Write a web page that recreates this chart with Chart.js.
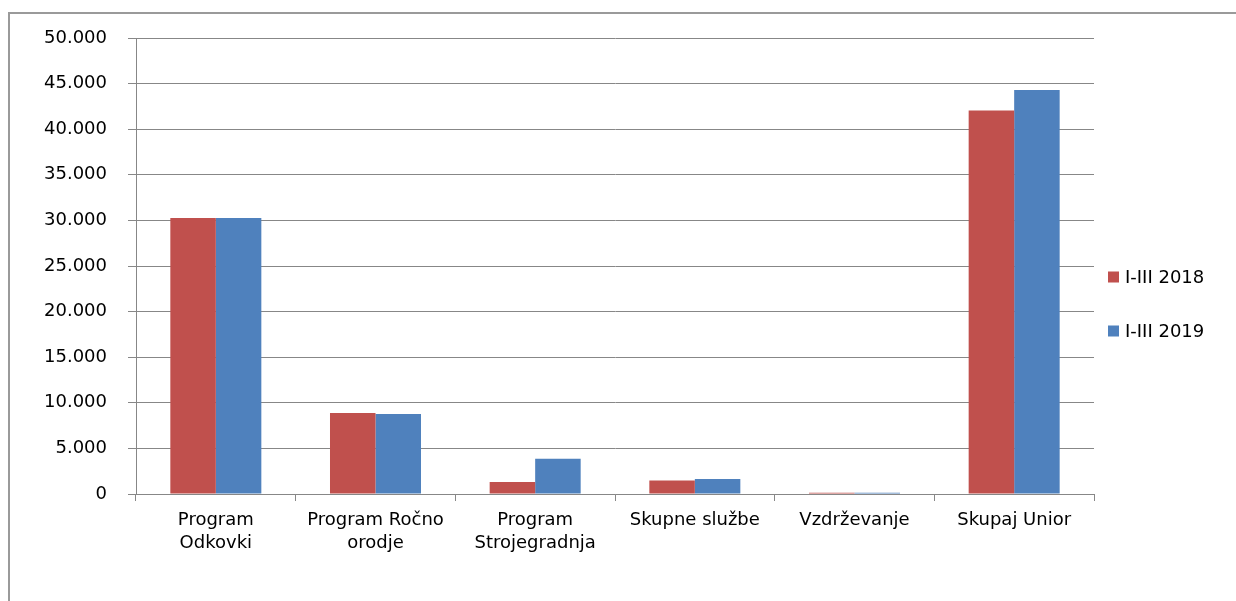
<!DOCTYPE html>
<html>
<head>
<meta charset="utf-8">
<script src="https://cdn.jsdelivr.net/npm/chart.js@4"></script>
<style>
  html, body { margin: 0; padding: 0; background: #fff; overflow: hidden; }
  #frame {
    position: absolute; left: 8px; top: 12px; width: 2000px; height: 2000px;
    border-left: 2px solid #9a9a9a; border-top: 2px solid #9a9a9a;
  }
  #wrap { position: absolute; left: 0; top: 0; width: 1236px; height: 601px; }
</style>
</head>
<body>
<div id="frame"></div>
<div id="wrap"><canvas id="chart" width="1236" height="601"></canvas></div>
<script>
const categories = [
    ["Program", "Odkovki"],
    ["Program Ročno", "orodje"],
    ["Program", "Strojegradnja"],
    "Skupne službe",
    "Vzdrževanje",
    "Skupaj Unior"
];
const seriesNames = ["I-III 2018", "I-III 2019"];
const values2018 = [30260, 8870, 1320, 1490, 150, 42050];
const values2019 = [30250, 8760, 3870, 1650, 130, 44300];
const yTicks = [0, 5000, 10000, 15000, 20000, 25000, 30000, 35000, 40000, 45000, 50000];

const FONT = "'DejaVu Sans', Verdana, sans-serif";
const GRID = "#878787";

// legenda desno, kvadratki + besedilo (kot v Excelu)
const sideLegend = {
    id: "sideLegend",
    afterDraw(chart) {
        const ctx = chart.ctx;
        const items = chart.data.datasets;
        ctx.save();
        ctx.font = "18px " + FONT;
        ctx.textBaseline = "middle";
        items.forEach((ds, i) => {
            const cy = 277 + i * 54;
            ctx.fillStyle = ds.backgroundColor;
            ctx.fillRect(1108, cy - 5.5, 11, 11);
            ctx.fillStyle = "#000";
            ctx.fillText(ds.label, 1125, cy + 1);
        });
        ctx.restore();
    }
};

const ctx = document.getElementById("chart").getContext("2d");
new Chart(ctx, {
    type: "bar",
    data: {
        labels: categories,
        datasets: [
            {
                label: seriesNames[0],
                data: values2018,
                backgroundColor: "#C0504D",
                categoryPercentage: 0.57,
                barPercentage: 1.0
            },
            {
                label: seriesNames[1],
                data: values2019,
                backgroundColor: "#4F81BD",
                categoryPercentage: 0.57,
                barPercentage: 1.0
            }
        ]
    },
    options: {
        responsive: false,
        animation: false,
        layout: { padding: { left: 8, top: 38, right: 142, bottom: 0 } },
        plugins: {
            legend: { display: false },
            tooltip: { enabled: false }
        },
        scales: {
            y: {
                min: 0,
                max: 50000,
                afterBuildTicks: (axis) => { axis.ticks = yTicks.map(v => ({ value: v })); },
                afterFit: (axis) => { axis.width = 128; },
                ticks: {
                    color: "#000",
                    padding: 21,
                    font: { family: FONT, size: 18 },
                    callback: (v) => v.toLocaleString("de-DE")
                },
                grid: { color: GRID, lineWidth: 1, tickLength: 8 },
                border: { color: GRID, width: 1 }
            },
            x: {
                afterFit: (axis) => { axis.height = 107; },
                ticks: {
                    color: "#000",
                    padding: 8,
                    autoSkip: false,
                    maxRotation: 0,
                    font: { family: FONT, size: 18, lineHeight: 1.28 }
                },
                grid: { drawOnChartArea: false, offset: true, color: GRID, tickLength: 7 },
                border: { color: GRID, width: 1 }
            }
        }
    },
    plugins: [sideLegend]
});
</script>
</body>
</html>
